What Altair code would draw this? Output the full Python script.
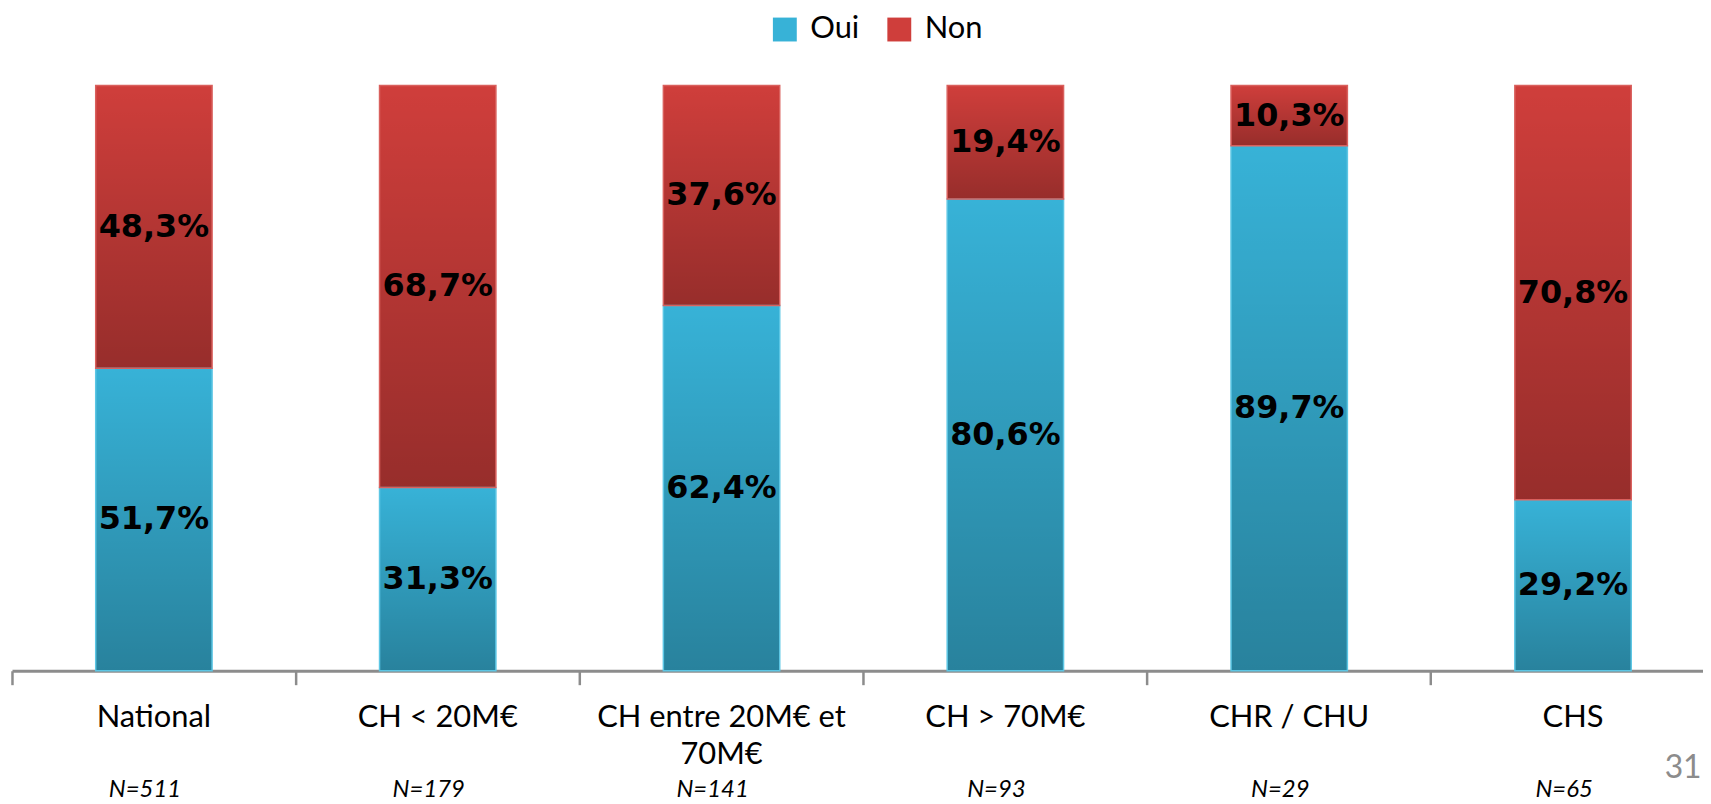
import altair as alt
import pandas as pd

# ---- data ----
categories = ["National", "CH < 20M€", "CH entre 20M€ et 70M€", "CH > 70M€", "CHR / CHU", "CHS"]
n_labels = ["N=511", "N=179", "N=141", "N=93", "N=29", "N=65"]
oui = [51.7, 31.3, 62.4, 80.6, 89.7, 29.2]
non = [48.3, 68.7, 37.6, 19.4, 10.3, 70.8]
series = ["Oui", "Non"]
page_number = "31"

rows = []
for cat, nl, o, n in zip(categories, n_labels, oui, non):
    base = 0.0
    for s, v in zip(series, [o, n]):
        rows.append({
            "cat": cat, "nlab": nl, "series": s, "value": v,
            "y0": base, "y1": base + v, "mid": base + v / 2,
            "label": f"{v:.1f}".replace(".", ",") + "%",
        })
        base += v
df = pd.DataFrame(rows)

RANGE = [0, 1711]

xscale = alt.Scale(range=RANGE, paddingInner=0, paddingOuter=0)
yscale = alt.Scale(domain=[0, 100])

cat_axis = alt.Axis(
    title=None, orient="bottom", bandPosition=0,
    domainColor="#8c8c8c", domainWidth=3, tickColor="#8c8c8c", tickWidth=2.5, tickSize=14,
    labelFont="Lato", labelFontSize=31, labelColor="black", labelPadding=18,
    labelLineHeight=37, labelAngle=0, labelLimit=500, labelOverlap=False,
    labelBound=False, labelFlush=False, grid=False,
    labelExpr="datum.label == 'CH entre 20M€ et 70M€' ? ['CH entre 20M€ et', '70M€'] : datum.label",
)

n_axis = alt.Axis(
    title=None, orient="bottom", domain=False, ticks=False, tickSize=0, grid=False,
    labelFont="Lato", labelFontStyle="italic", labelFontSize=24, labelColor="black",
    labelPadding=107, labelAngle=0, labelOverlap=False, labelBound=False, labelFlush=False,
    labelOffset=-9,
)

bars = alt.Chart(df).mark_bar(width=alt.RelativeBandSize(0.41)).encode(
    x=alt.X("cat:N", sort=None, scale=xscale, axis=cat_axis),
    y=alt.Y("y0:Q", scale=yscale, axis=None),
    y2="y1:Q",
    color=alt.Color(
        "series:N",
        scale=alt.Scale(domain=series, range=["#37b2d7", "#cf3e3b"]),
        legend=alt.Legend(
            title=None, orient="none", direction="horizontal", legendX=761, legendY=-72,
            symbolType="square", symbolSize=576, symbolStrokeWidth=0,
            labelFont="Lato", labelFontSize=31, labelColor="black", labelOffset=10,
            columnPadding=24, padding=0,
        ),
    ),
)

shade = alt.LinearGradient(
    gradient="linear", x1=0, y1=0, x2=0, y2=1,
    stops=[alt.GradientStop(color="rgba(0,0,0,0)", offset=0),
           alt.GradientStop(color="rgba(0,0,0,0.27)", offset=1)],
)

overlay = alt.Chart(df).mark_bar(width=alt.RelativeBandSize(0.41), fill=shade, strokeWidth=1.5).encode(
    x=alt.X("nlab:N", sort=None, scale=xscale, axis=n_axis),
    y=alt.Y("y0:Q", scale=yscale, axis=None),
    y2="y1:Q",
    stroke=alt.Stroke("series:N", scale=alt.Scale(domain=series, range=["#5cc6e4", "#d9605d"]), legend=None),
)

labels = alt.Chart(df).mark_text(
    font="DejaVu Sans", fontWeight="bold", fontSize=32, color="black", baseline="middle"
).encode(
    x=alt.X("cat:N", sort=None, scale=xscale, axis=None),
    y=alt.Y("mid:Q", scale=yscale, axis=None),
    text="label:N",
)

page = alt.Chart(pd.DataFrame({"t": [page_number]})).mark_text(
    font="Lato", fontSize=32, color="#8c8c8c", align="center", baseline="alphabetic"
).encode(x=alt.value(1679), y=alt.value(696), text="t:N")

chart = alt.layer(bars, overlay, labels, page).resolve_scale(x="independent").resolve_axis(x="independent").properties(
    width=1699, height=588,
    autosize=alt.AutoSizeParams(type="none"),
    padding={"left": 4, "top": 76, "right": 0, "bottom": 132},
).configure_view(stroke=None)

chart.save("out.html", embed_options={"renderer": "svg", "actions": False})
